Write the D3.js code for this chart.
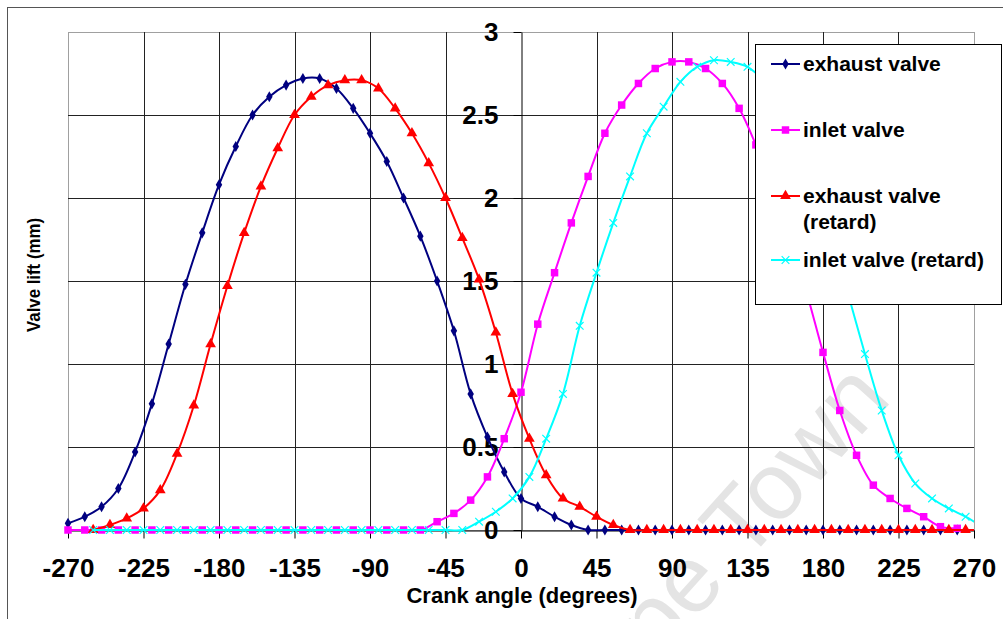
<!DOCTYPE html>
<html>
<head>
<meta charset="utf-8">
<script src="https://cdn.jsdelivr.net/npm/d3@7"></script>
<style>
  body { margin: 0; background: #fff; }
  svg { display: block; font-family: "Liberation Sans", Arial, sans-serif; }
</style>
</head>
<body>
<div id="chart"></div>
<script>
// crank angles (degrees) of the data points
const anglesA = [-270,-260,-250,-240,-230,-220,-210,-200,-190,-180,-170,-160,-150,-140,-130,-120,-110,-100,-90,-80,-70,-60,-50,-40,-30,-20,-10,0,10,20,30,40,50,60,70,80,90,100,110,120,130,140,150,160,170,180,190,200,210,220,230,240,250,260];
const anglesB = [-255,-245,-235,-225,-215,-205,-195,-185,-175,-165,-155,-145,-135,-125,-115,-105,-95,-85,-75,-65,-55,-45,-35,-25,-15,-5,5,15,25,35,45,55,65,75,85,95,105,115,125,135,145,155,165,175,185,195,205,215,225,235,245,255,265,275];

// valve lift (mm)
const exhaustValve = [0.04,0.08,0.14,0.25,0.47,0.76,1.12,1.48,1.79,2.08,2.31,2.50,2.61,2.68,2.72,2.72,2.66,2.54,2.39,2.22,2.00,1.77,1.50,1.20,0.82,0.56,0.35,0.19,0.14,0.08,0.03,0,0,0,0,0,0,0,0,0,0,0,0,0,0,0,0,0,0,0,0,0,0,0];
const inletValve = [0,0,0,0,0,0,0,0,0,0,0,0,0,0,0,0,0,0,0,0,0,0,0.05,0.10,0.18,0.32,0.55,0.83,1.24,1.55,1.85,2.13,2.39,2.56,2.69,2.78,2.82,2.82,2.78,2.69,2.54,2.32,2.07,1.78,1.44,1.07,0.72,0.45,0.27,0.19,0.13,0.08,0.02,0.01];
const exhaustRetard = [0,0.03,0.07,0.13,0.24,0.46,0.75,1.12,1.47,1.79,2.07,2.30,2.50,2.61,2.68,2.71,2.71,2.66,2.54,2.39,2.21,2.00,1.76,1.51,1.19,0.82,0.55,0.33,0.19,0.14,0.08,0.03,0,0,0,0,0,0,0,0,0,0,0,0,0,0,0,0,0,0,0,0,0,0];
const inletRetard = [0,0,0,0,0,0,0,0,0,0,0,0,0,0,0,0,0,0,0,0,0,0,0,0.05,0.11,0.19,0.32,0.55,0.82,1.23,1.55,1.85,2.13,2.39,2.55,2.70,2.79,2.83,2.82,2.79,2.70,2.54,2.32,2.05,1.76,1.42,1.06,0.72,0.45,0.28,0.19,0.13,0.08,0.02];

const xTicks = [-270,-225,-180,-135,-90,-45,0,45,90,135,180,225,270];
const yTicks = [0,0.5,1,1.5,2,2.5,3];

const seriesNames = ["exhaust valve", "inlet valve", "exhaust valve (retard)", "inlet valve (retard)"];
const legendLines = [["exhaust valve"], ["inlet valve"], ["exhaust valve", "(retard)"], ["inlet valve (retard)"]];

const series = [
  {name: seriesNames[0], x: anglesA, y: exhaustValve, color: "#000080", symbol: d3.symbolDiamond, size: 36, filled: true},
  {name: seriesNames[1], x: anglesA, y: inletValve, color: "#ff00ff", symbol: d3.symbolSquare, size: 56, filled: true},
  {name: seriesNames[2], x: anglesB, y: exhaustRetard, color: "#ff0000", symbol: d3.symbolTriangle, size: 50, filled: true},
  {name: seriesNames[3], x: anglesB, y: inletRetard, color: "#00ffff", symbol: d3.symbolTimes, size: 40, filled: false}
];

const W = 1003, H = 619;
const plot = {left: 68, right: 974, top: 32, bottom: 530};

const svg = d3.select("#chart").append("svg")
    .attr("width", W)
    .attr("height", H);

svg.append("rect").attr("width", W).attr("height", H).attr("fill", "#fff");

// faint watermark, runs off the bottom edge as in the scan
svg.append("text")
    .attr("transform", "translate(893,400) rotate(-48)")
    .attr("text-anchor", "end")
    .style("font-size", "95px")
    .attr("fill", "#e4e4e4")
    .text("Cape Town");

// outer chart border
svg.append("rect")
    .attr("x", 7.5).attr("y", 7.5)
    .attr("width", 1100).attr("height", 700)
    .attr("fill", "none")
    .attr("stroke", "#555");

const x = d3.scaleLinear().domain([-270, 270]).range([plot.left, plot.right]);
const y = d3.scaleLinear().domain([0, 3]).range([plot.bottom, plot.top]);

// plot area border
svg.append("rect")
    .attr("x", plot.left + 0.5).attr("y", plot.top + 0.5)
    .attr("width", plot.right - plot.left).attr("height", plot.bottom - plot.top)
    .attr("fill", "none")
    .attr("stroke", "#a0a0a0");

// grid
svg.append("g").selectAll("line")
    .data(xTicks.filter(d => d !== -270 && d !== 270 && d !== 0))
    .join("line")
    .attr("x1", d => Math.round(x(d)) + 0.5).attr("x2", d => Math.round(x(d)) + 0.5)
    .attr("y1", plot.top).attr("y2", plot.bottom)
    .attr("stroke", "#222");

svg.append("g").selectAll("line")
    .data(yTicks.filter(d => d !== 0 && d !== 3))
    .join("line")
    .attr("x1", plot.left).attr("x2", plot.right)
    .attr("y1", d => Math.round(y(d)) + 0.5).attr("y2", d => Math.round(y(d)) + 0.5)
    .attr("stroke", "#222");

// axes
const xAxis = svg.append("g")
    .attr("transform", `translate(0,${plot.bottom + 0.5})`)
    .call(d3.axisBottom(x).tickValues(xTicks).tickFormat(d => String(d))
        .tickSize(8).tickSizeOuter(0).tickPadding(20));

const yAxis = svg.append("g")
    .attr("transform", `translate(${Math.round(x(0)) + 0.5},0)`)
    .call(d3.axisLeft(y).tickValues(yTicks).tickFormat(d => String(d))
        .tickSize(8).tickSizeOuter(0).tickPadding(15));

[xAxis, yAxis].forEach(a => {
  a.attr("font-family", null).attr("font-size", null);
  a.selectAll("text")
      .style("font-size", "26px")
      .style("font-weight", "bold")
      .attr("fill", "#000");
  a.selectAll("path, line").attr("stroke", "#000");
});

// axis titles
svg.append("text")
    .attr("x", 522).attr("y", 603)
    .attr("text-anchor", "middle")
    .style("font-size", "22px")
    .style("font-weight", "bold")
    .text("Crank angle (degrees)");

svg.append("text")
    .attr("transform", "translate(40,275) rotate(-90)")
    .attr("text-anchor", "middle")
    .attr("textLength", 114)
    .attr("lengthAdjust", "spacingAndGlyphs")
    .style("font-size", "19px")
    .style("font-weight", "bold")
    .text("Valve lift (mm)");

// series
svg.append("clipPath").attr("id", "plotClip")
  .append("rect")
    .attr("x", plot.left).attr("y", plot.top - 5)
    .attr("width", plot.right - plot.left).attr("height", plot.bottom - plot.top + 10);

const line = d3.line()
    .x(d => x(d[0]))
    .y(d => y(d[1]))
    .curve(d3.curveCatmullRom);

series.forEach(s => {
  const pts = s.x.map((a, i) => [a, s.y[i]]);
  const g = svg.append("g");
  g.append("path")
      .attr("d", line(pts))
      .attr("clip-path", "url(#plotClip)")
      .attr("fill", "none")
      .attr("stroke", s.color)
      .attr("stroke-width", 2);
  g.selectAll("path.mark")
      .data(pts.filter(p => p[0] >= -270 && p[0] <= 270))
      .join("path")
      .attr("class", "mark")
      .attr("transform", p => `translate(${x(p[0])},${y(p[1])})`)
      .attr("d", d3.symbol().type(s.symbol).size(s.size))
      .attr("fill", s.filled ? s.color : "none")
      .attr("stroke", s.filled ? "none" : s.color)
      .attr("stroke-width", 1.2);
});

// legend
const legend = svg.append("g");
legend.append("rect")
    .attr("x", 755.5).attr("y", 44.5)
    .attr("width", 246).attr("height", 260)
    .attr("fill", "#fff")
    .attr("stroke", "#000");

const legendY = [64, 130, 196, 260];
series.forEach((s, i) => {
  const row = legend.append("g").attr("transform", `translate(0,${legendY[i]})`);
  row.append("line")
      .attr("x1", 771).attr("x2", 800)
      .attr("stroke", s.color).attr("stroke-width", 2);
  row.append("path")
      .attr("transform", "translate(785.5,0)")
      .attr("d", d3.symbol().type(s.symbol).size(s.size)())
      .attr("fill", s.filled ? s.color : "none")
      .attr("stroke", s.filled ? "none" : s.color)
      .attr("stroke-width", 1.2);
  row.selectAll("text")
      .data(legendLines[i])
      .join("text")
      .attr("x", 803)
      .attr("y", (d, j) => j * 26)
      .attr("dy", "0.35em")
      .style("font-size", "21px")
      .style("font-weight", "bold")
      .text(d => d);
});
</script>
</body>
</html>
